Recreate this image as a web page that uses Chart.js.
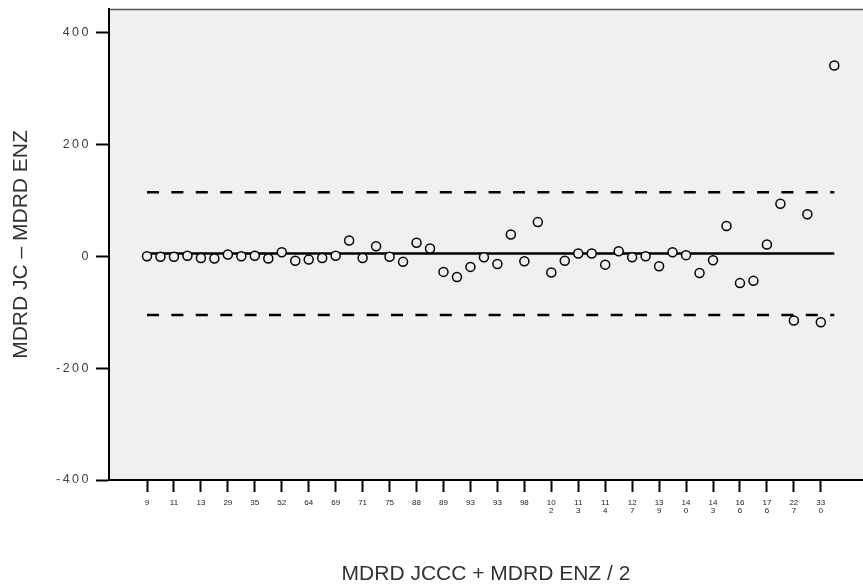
<!DOCTYPE html>
<html>
<head>
<meta charset="utf-8">
<script src="https://cdn.jsdelivr.net/npm/chart.js@4/dist/chart.umd.min.js"></script>
<style>
  html, body { margin: 0; padding: 0; background: #fff; }
  #wrap { width: 863px; height: 587px; }
</style>
</head>
<body>
<div id="wrap"><canvas id="baChart"></canvas></div>
<script>
// Differences (MDRD JC - MDRD ENZ), one per case, in order of the mean
const diffValues = [0, -1, -1, 1, -3, -4, 3, 0, 1, -4, 7, -8, -6, -3, 1, 28, -3, 18, -1, -10,
  24, 14, -28, -37, -19, -2, -14, 39, -9, 61, -29, -8, 5, 5, -15, 9, -2, 0, -18, 7,
  2, -30, -7, 54, -48, -44, 21, 94, -115, 75, -118, 341];

// Tick labels shown under every second case
const xTickLabels = ['9', '11', '13', '29', '35', '52', '64', '69', '71', '75', '88', '89', '93',
  '93', '98', ['10', '2'], ['11', '3'], ['11', '4'], ['12', '7'], ['13', '9'], ['14', '0'],
  ['14', '3'], ['16', '6'], ['17', '6'], ['22', '7'], ['33', '0']];

const yTicks = [-400, -200, 0, 200, 400];

// Mean difference and limits of agreement
const meanDiff = 5;
const upperLimit = 114.5;
const lowerLimit = -105;

const points = diffValues.map((v, i) => ({ x: i, y: v }));
const lastIdx = diffValues.length - 1;
const hLine = v => [{ x: 0, y: v }, { x: lastIdx, y: v }];

// Grey plot background plus thin top frame
const plotBackground = {
  id: 'plotBackground',
  beforeDraw(chart) {
    const { ctx, chartArea: a } = chart;
    ctx.save();
    ctx.letterSpacing = '0px';
    ctx.fillStyle = '#f0f0f0';
    ctx.fillRect(a.left, a.top, a.right - a.left, a.bottom - a.top);
    ctx.strokeStyle = '#555';
    ctx.lineWidth = 1.5;
    ctx.beginPath();
    ctx.moveTo(a.left, a.top + 0.5);
    ctx.lineTo(a.right, a.top + 0.5);
    ctx.stroke();
    ctx.restore();
  },
  // y tick labels are drawn after this (z: 1) and are widely spaced in the original
  afterDatasetsDraw(chart) {
    chart.ctx.letterSpacing = '2.5px';
  },
  afterDraw(chart) {
    chart.ctx.letterSpacing = '0px';
  }
};

new Chart(document.getElementById('baChart'), {
  type: 'scatter',
  data: {
    datasets: [{
      data: points,
      order: 0,
      pointRadius: 4.5,
      pointBorderWidth: 1.5,
      pointBorderColor: '#000',
      pointBackgroundColor: '#f0f0f0'
    }, {
      data: hLine(meanDiff),
      order: 1,
      showLine: true,
      pointRadius: 0,
      borderColor: '#000',
      borderWidth: 2.5
    }, {
      data: hLine(upperLimit),
      order: 1,
      showLine: true,
      pointRadius: 0,
      borderColor: '#000',
      borderWidth: 2.5,
      borderDash: [12, 12.4]
    }, {
      data: hLine(lowerLimit),
      order: 1,
      showLine: true,
      pointRadius: 0,
      borderColor: '#000',
      borderWidth: 2.5,
      borderDash: [12, 12.4]
    }]
  },
  options: {
    responsive: true,
    maintainAspectRatio: false,
    animation: false,
    layout: { autoPadding: false, padding: { top: 9, right: 0, bottom: 0, left: 0 } },
    plugins: {
      legend: { display: false },
      tooltip: { enabled: false }
    },
    scales: {
      x: {
        type: 'linear',
        min: -2.82,
        max: 53.13,
        afterBuildTicks: s => { s.ticks = xTickLabels.map((_, i) => ({ value: i * 2 })); },
        afterFit: s => { s.height = 107; s.paddingLeft = 0; s.paddingRight = 0; },
        ticks: {
          autoSkip: false,
          maxRotation: 0,
          padding: 7,
          color: '#222',
          font: { family: 'Liberation Sans', size: 8, lineHeight: 1 },
          callback: (v, i) => xTickLabels[i]
        },
        grid: { drawOnChartArea: false, tickLength: 12, tickWidth: 2, tickColor: '#000' },
        border: { color: '#000', width: 2 },
        title: {
          display: true,
          text: 'MDRD JCCC + MDRD ENZ / 2',
          color: '#333',
          font: { family: 'Liberation Sans', size: 21 },
          padding: { top: 0, bottom: 0 }
        }
      },
      y: {
        min: -400,
        max: 442,
        afterBuildTicks: s => { s.ticks = yTicks.map(v => ({ value: v })); },
        afterFit: s => { s.width = 109; s.paddingTop = 0; s.paddingBottom = 0; },
        ticks: {
          z: 1,
          padding: 5,
          color: '#404040',
          font: { family: 'Liberation Sans', size: 12.5 }
        },
        grid: { drawOnChartArea: false, tickLength: 13, tickWidth: 2, tickColor: '#000' },
        border: { color: '#000', width: 2 },
        title: {
          display: true,
          text: 'MDRD JC – MDRD ENZ',
          color: '#333',
          font: { family: 'Liberation Sans', size: 21 },
          padding: { top: 9, bottom: 0 }
        }
      }
    }
  },
  plugins: [plotBackground]
});
</script>
</body>
</html>
